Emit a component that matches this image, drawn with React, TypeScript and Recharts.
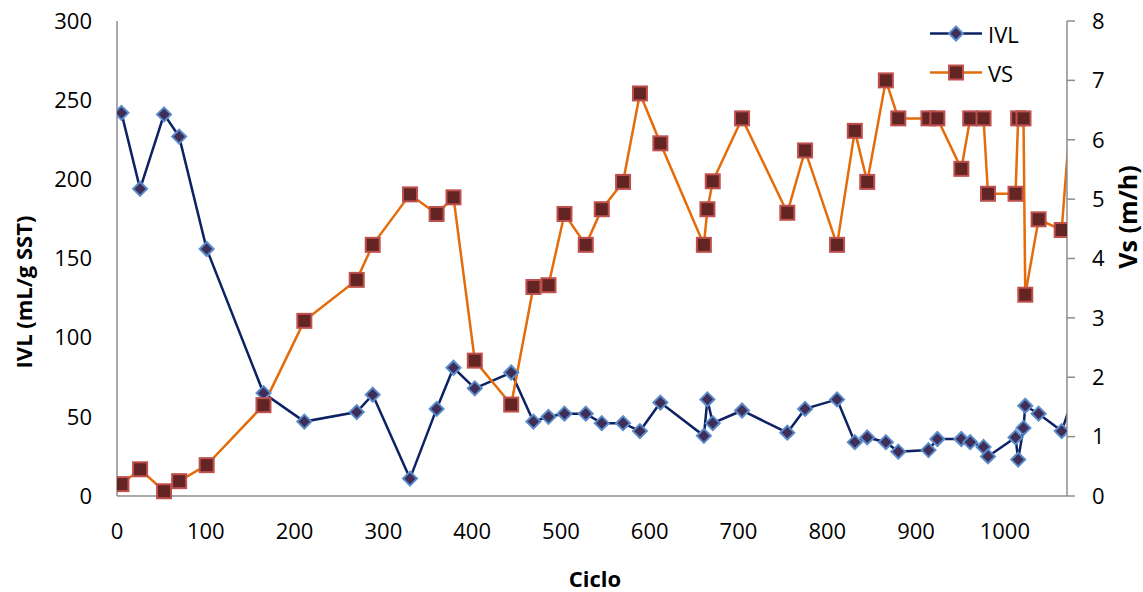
import React from "react";
import {
  LineChart,
  Line,
  XAxis,
  YAxis,
  Legend,
} from "recharts";

const cycles = [
  5, 26, 53, 70, 101, 165, 211, 270, 288, 330, 360, 379, 403, 444, 469, 486,
  504, 528, 546, 570, 589, 612, 661, 665, 671, 704, 755, 775, 811, 831, 845,
  866, 880, 914, 924, 951, 961, 976, 981, 1012, 1015, 1021, 1023, 1038, 1064,
  1078,
];

const ivl = [
  242, 194, 241, 227, 156, 65, 47, 53, 64, 11, 55, 81, 68, 78, 47, 50, 52, 52,
  46, 46, 41, 59, 38, 61, 46, 54, 40, 55, 61, 34, 37, 34, 28, 29, 36, 36, 34,
  31, 25, 37, 23, 43, 57, 52, 41, 64,
];

const vs = [
  0.2, 0.45, 0.08, 0.25, 0.52, 1.53, 2.95, 3.64, 4.23, 5.08, 4.75, 5.03, 2.28,
  1.54, 3.52, 3.55, 4.75, 4.23, 4.83, 5.29, 6.78, 5.94, 4.23, 4.83, 5.3, 6.36,
  4.77, 5.82, 4.23, 6.15, 5.29, 7.0, 6.36, 6.36, 6.36, 5.51, 6.36, 6.36, 5.09,
  5.09, 6.36, 6.36, 3.39, 4.66, 4.48, 7.2,
];

const xTicks = [0, 100, 200, 300, 400, 500, 600, 700, 800, 900, 1000];
const leftTicks = [0, 50, 100, 150, 200, 250, 300];
const rightTicks = [0, 1, 2, 3, 4, 5, 6, 7, 8];

const data = cycles.map((c, i) => ({ cycle: c, IVL: ivl[i], VS: vs[i] }));

const FONT = '"Open Sans", sans-serif';
const AXIS = "#8c8c8c";
const IVL_LINE = "#0d2263";
const VS_LINE = "#e46c0a";

const Diamond = ({ cx, cy }: { cx: number; cy: number }) => (
  <path
    d={`M${cx},${cy - 7}L${cx + 7},${cy}L${cx},${cy + 7}L${cx - 7},${cy}Z`}
    fill="#3f2f58"
    stroke="#5a8ccc"
    strokeWidth={2}
  />
);

const Square = ({ cx, cy }: { cx: number; cy: number }) => (
  <rect
    x={cx - 7}
    y={cy - 7}
    width={14}
    height={14}
    fill="#632523"
    stroke="#c0504d"
    strokeWidth={2}
  />
);

// skip markers that fall past the axis end (the line itself is clipped)
const renderDot = (Shape: any) => (props: any) => {
  const { cx, cy, index, payload } = props;
  if (cx == null || cy == null || payload.cycle > 1070) return <g key={`d-${index}`} />;
  return (
    <g key={`d-${index}`}>
      <Shape cx={cx} cy={cy} />
    </g>
  );
};

const LegendBox = (props: any) => {
  const { payload = [] } = props;
  return (
    <div style={{ fontFamily: FONT, fontSize: 22, color: "#000" }}>
      {payload.map((p: any) => (
        <div
          key={p.value}
          style={{ display: "flex", alignItems: "center", height: 39 }}
        >
          <svg width={52} height={39}>
            <line x1={0} x2={52} y1={19.5} y2={19.5} stroke={p.color} strokeWidth={2.5} />
            {p.value === "IVL" ? <Diamond cx={26} cy={19.5} /> : <Square cx={26} cy={19.5} />}
          </svg>
          <span style={{ marginLeft: 6 }}>{p.value}</span>
        </div>
      ))}
    </div>
  );
};

const titleStyle = {
  fontFamily: FONT,
  fontSize: 22,
  fontWeight: 700,
  fill: "#000",
};

export default function App() {
  return (
    <div style={{ position: "fixed", left: 0, top: 0, width: 1143, height: 592, background: "#fff" }}>
      <LineChart
        width={1143}
        height={592}
        data={data}
        margin={{ top: 21, right: 16, left: 17, bottom: 36 }}
        style={{ fontFamily: FONT }}
      >
        <XAxis
          dataKey="cycle"
          type="number"
          domain={[0, 1070]}
          allowDataOverflow
          ticks={xTicks}
          tickLine={false}
          tickSize={0}
          tickMargin={27}
          axisLine={{ stroke: AXIS, strokeWidth: 1.5 }}
          tick={{ fill: "#000", fontSize: 22, fontFamily: FONT }}
          height={60}
          label={{
            content: () => (
              <text x={595} y={578} textAnchor="middle" dominantBaseline="central" style={titleStyle}>
                Ciclo
              </text>
            ),
          }}
        />
        <YAxis
          yAxisId="left"
          domain={[0, 300]}
          ticks={leftTicks}
          tickLine={false}
          tickSize={0}
          tickMargin={25}
          axisLine={{ stroke: AXIS, strokeWidth: 1.5 }}
          tick={{ fill: "#000", fontSize: 22, fontFamily: FONT }}
          width={100}
          label={{
            content: () => (
              <text
                x={23}
                y={292}
                transform="rotate(-90 23 292)"
                textAnchor="middle"
                dominantBaseline="central"
                style={titleStyle}
              >
                IVL (mL/g SST)
              </text>
            ),
          }}
        />
        <YAxis
          yAxisId="right"
          orientation="right"
          domain={[0, 8]}
          ticks={rightTicks}
          tickSize={8}
          tickMargin={17}
          tickLine={{ stroke: AXIS, strokeWidth: 1.5 }}
          axisLine={{ stroke: AXIS, strokeWidth: 1.5 }}
          tick={{ fill: "#000", fontSize: 22, fontFamily: FONT }}
          width={60}
          label={{
            content: () => (
              <text
                x={1127}
                y={217}
                transform="rotate(-90 1127 217)"
                textAnchor="middle"
                dominantBaseline="central"
                style={{ ...titleStyle, fontSize: 25 }}
              >
                Vs (m/h)
              </text>
            ),
          }}
        />
        <Legend
          layout="vertical"
          align="center"
          verticalAlign="middle"
          content={<LegendBox />}
          wrapperStyle={{ left: 930, top: 14, width: "auto" }}
        />
        <Line
          yAxisId="left"
          dataKey="IVL"
          name="IVL"
          stroke={IVL_LINE}
          strokeWidth={2.5}
          dot={renderDot(Diamond)}
          activeDot={false}
          isAnimationActive={false}
        />
        <Line
          yAxisId="right"
          dataKey="VS"
          name="VS"
          stroke={VS_LINE}
          strokeWidth={2.5}
          dot={renderDot(Square)}
          activeDot={false}
          isAnimationActive={false}
        />
      </LineChart>
    </div>
  );
}
